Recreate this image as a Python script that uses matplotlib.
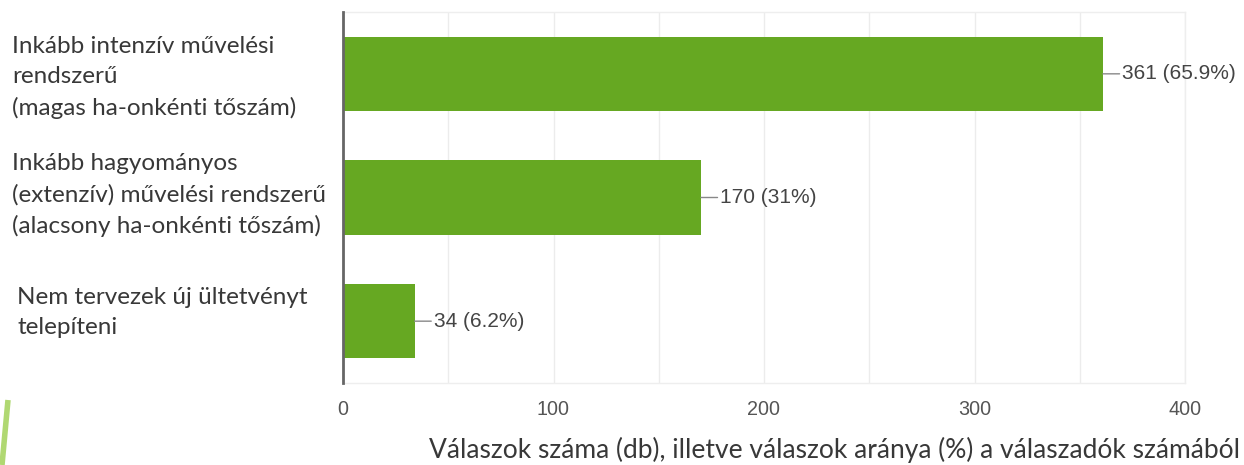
import matplotlib.pyplot as plt
import matplotlib.transforms as mtransforms
from matplotlib.ticker import MultipleLocator

categories = [
    "Inkább intenzív művelési\nrendszerű\n(magas ha-onkénti tőszám)",
    "Inkább hagyományos\n(extenzív) művelési rendszerű\n(alacsony ha-onkénti tőszám)",
    "Nem tervezek új ültetvényt\ntelepíteni",
]
counts = [361, 170, 34]
percents = ["65.9%", "31%", "6.2%"]
xlabel = "Válaszok száma (db), illetve válaszok aránya (%) a válaszadók számából"

BAR_COLOR = "#66a822"
LABEL_FONT = "Lato"
NUM_FONT = "Liberation Sans"

fig = plt.figure(figsize=(12.44, 4.65), dpi=100)
ax = fig.add_axes([343 / 1244, 1 - 383 / 465, 842 / 1244, 371 / 465])

y = list(range(len(counts)))
ax.barh(y, counts, height=0.6, color=BAR_COLOR, zorder=3)

ax.set_xlim(0, 400)
ax.set_ylim(len(counts) - 0.5, -0.5)
ax.xaxis.set_major_locator(MultipleLocator(100))
ax.xaxis.set_minor_locator(MultipleLocator(50))
ax.grid(axis="x", which="both", color="#ececec", linewidth=1, zorder=0)
ax.set_yticks([])
ax.tick_params(axis="x", which="both", length=0, pad=12, labelsize=14.2, labelcolor="#555555")
for lab in ax.get_xticklabels():
    lab.set_fontfamily(NUM_FONT)

for side in ["top", "right", "bottom"]:
    ax.spines[side].set_color("#eeeeee")
    ax.spines[side].set_linewidth(1)
ax.spines["left"].set_color("#666666")
ax.spines["left"].set_linewidth(2)
ax.spines["left"].set_zorder(4)

# value labels with a short leader line
for i, (c, p) in enumerate(zip(counts, percents)):
    ax.annotate(f"{c} ({p})", xy=(c, i), xytext=(14, 0), textcoords="offset points",
                va="center", ha="left", fontsize=15, color="#444444", fontfamily=NUM_FONT,
                arrowprops=dict(arrowstyle="-", color="#888888", lw=1,
                                shrinkA=0, shrinkB=0, relpos=(0, 0.5)))

# category labels, left aligned at the figure edge
trans = mtransforms.blended_transform_factory(fig.transFigure, ax.transData)
label_x = [12 / 1244, 12 / 1244, 17 / 1244]
label_dy = [0.03, -0.02, -0.07]
for i, txt in enumerate(categories):
    ax.text(label_x[i], i + label_dy[i], txt, transform=trans, ha="left", va="center",
            fontsize=17.5, color="#383838", fontfamily=LABEL_FONT, linespacing=1.55,
            clip_on=False)

fig.text(1240 / 1244, 1 - 450 / 465, xlabel, ha="right", va="center",
         fontsize=19, color="#383838", fontfamily=LABEL_FONT)

# green slide decoration in the lower left corner
fig.add_artist(plt.Line2D([8 / 1244, 2 / 1244], [1 - 400 / 465, 0], transform=fig.transFigure,
                          color="#9ccf4f", linewidth=4, alpha=0.8, solid_capstyle="butt"))

fig.savefig("out.png", dpi=100, facecolor="white")
